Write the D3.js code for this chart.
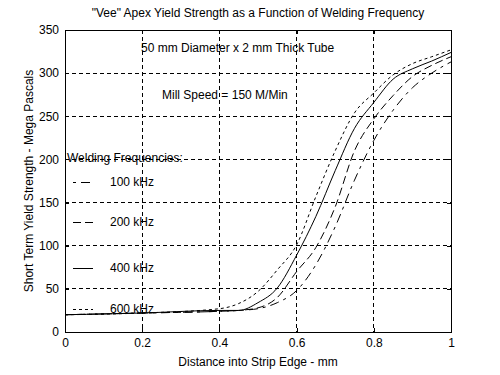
<!DOCTYPE html>
<html>
<head>
<meta charset="utf-8">
<script src="https://cdn.jsdelivr.net/npm/d3@7"></script>
<style>
  body { margin: 0; background: #fff; }
  text { font-family: "Liberation Sans", Arial, sans-serif; font-size: 12px; fill: #000; }
</style>
</head>
<body>
<svg id="chart"></svg>
<script>
(() => {
// distance into strip edge (mm)
let distance = [0, 0.2, 0.4, 0.45, 0.5, 0.55, 0.6, 0.65, 0.7, 0.75, 0.8, 0.85, 0.9, 0.95, 1.0];
// yield strength (MPa) per welding frequency
let khz100 = [20, 22, 24, 25, 27, 34, 48, 78, 122, 176, 222, 257, 283, 300, 313];
let khz200 = [20, 22, 24, 25, 28, 40, 70, 98, 145, 210, 247, 274, 296, 309, 319];
let khz400 = [20, 22, 25, 25, 34, 51, 89, 134, 187, 236, 266, 293, 305, 314, 324];
let khz600 = [20, 22, 27, 33, 47, 72, 101, 157, 210, 254, 277, 298, 311, 319, 327];

let seriesNames = ['100 kHz', '200 kHz', '400 kHz', '600 kHz'];
let xTicks = [0, 0.2, 0.4, 0.6, 0.8, 1];
let yTicks = [0, 50, 100, 150, 200, 250, 300, 350];

let svgWidth = 500,
    svgHeight = 375,
    left = 65,
    right = 451,
    top = 30,
    bottom = 332;

let dashes = ['3,5,9,5', '8,4', null, '3,3'];

let svg = d3.select('#chart')
    .attr('width', svgWidth)
    .attr('height', svgHeight);

svg.append('rect')
    .attr('width', svgWidth)
    .attr('height', svgHeight)
    .attr('fill', '#fff');

let xScale = d3.scaleLinear().domain([0, 1]).range([left, right]);
let yScale = d3.scaleLinear().domain([0, 350]).range([bottom, top]);

// grid
let grid = svg.append('g')
    .attr('stroke', '#000')
    .attr('stroke-dasharray', '4,3')
    .attr('shape-rendering', 'crispEdges');

grid.selectAll('.vgrid')
    .data(xTicks.slice(1, -1))
    .enter()
    .append('line')
    .attr('x1', d => xScale(d)).attr('x2', d => xScale(d))
    .attr('y1', top).attr('y2', bottom);

grid.selectAll('.hgrid')
    .data(yTicks.slice(1, -1))
    .enter()
    .append('line')
    .attr('x1', left).attr('x2', right)
    .attr('y1', d => yScale(d)).attr('y2', d => yScale(d));

// axes
let xAxis = d3.axisBottom(xScale).tickValues(xTicks).tickSize(-4).tickPadding(6).tickFormat(d3.format('~g'));
let yAxis = d3.axisLeft(yScale).tickValues(yTicks).tickSize(-4).tickPadding(6);
let xAxisTop = d3.axisTop(xScale).tickValues(xTicks).tickSize(-4).tickFormat('');
let yAxisRight = d3.axisRight(yScale).tickValues(yTicks).tickSize(-4).tickFormat('');

[
  [xAxis, `translate(0,${bottom})`],
  [yAxis, `translate(${left},0)`],
  [xAxisTop, `translate(0,${top})`],
  [yAxisRight, `translate(${right},0)`]
].forEach(([ax, tr]) => {
  let g = svg.append('g')
      .attr('transform', tr)
      .call(ax)
      .attr('shape-rendering', 'crispEdges');
  g.select('.domain').attr('stroke', '#000');
  g.selectAll('.tick line').attr('stroke', '#000');
  g.selectAll('text').attr('font-family', null).attr('font-size', null).attr('fill', '#000');
});

// curves
let series = [khz100, khz200, khz400, khz600];
let line = d3.line()
    .x((d, i) => xScale(distance[i]))
    .y(d => yScale(d))
    .curve(d3.curveMonotoneX);

svg.append('g')
    .selectAll('path')
    .data(series)
    .enter()
    .append('path')
    .attr('d', d => line(d))
    .attr('fill', 'none')
    .attr('stroke', '#000')
    .attr('stroke-width', 1)
    .attr('stroke-dasharray', (d, i) => dashes[i]);

// annotations / legend
svg.append('text').attr('x', 141).attr('y', 52).text('50 mm Diameter x 2 mm Thick Tube');
svg.append('text').attr('x', 162).attr('y', 99).text('Mill Speed = 150 M/Min');
svg.append('text').attr('x', 67).attr('y', 162).text('Welding Frequencies:');

let legendY = [182, 222, 268, 309];
let legend = svg.append('g')
    .selectAll('g')
    .data(seriesNames)
    .enter()
    .append('g')
    .attr('transform', (d, i) => `translate(0,${legendY[i]})`);

legend.append('line')
    .attr('x1', 73).attr('x2', 93)
    .attr('y1', 0).attr('y2', 0)
    .attr('stroke', '#000')
    .attr('shape-rendering', 'crispEdges')
    .attr('stroke-dasharray', (d, i) => dashes[i]);

legend.append('text')
    .attr('x', 110)
    .attr('y', 4)
    .text(d => d);

// titles
svg.append('text')
    .attr('x', (left + right) / 2)
    .attr('y', 17)
    .attr('text-anchor', 'middle')
    .text('"Vee" Apex Yield Strength as a Function of Welding Frequency');

svg.append('text')
    .attr('x', (left + right) / 2)
    .attr('y', 366)
    .attr('text-anchor', 'middle')
    .text('Distance into Strip Edge - mm');

svg.append('text')
    .attr('transform', `translate(33,${(top + bottom) / 2}) rotate(-90)`)
    .attr('text-anchor', 'middle')
    .text('Short Term Yield Strength - Mega Pascals');
})();
</script>
</body>
</html>
